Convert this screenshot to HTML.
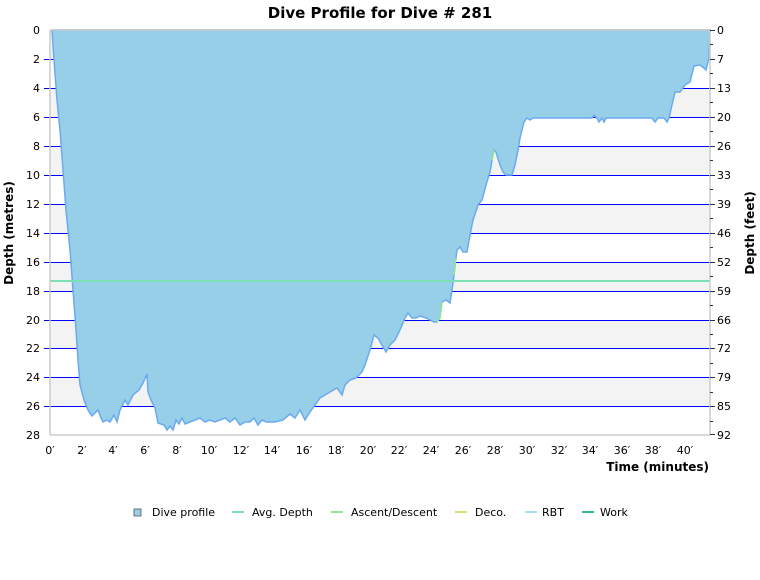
<!DOCTYPE html>
<html><head><meta charset="utf-8"><style>body{margin:0;background:#fff}svg{display:block;font-family:"DejaVu Sans","Liberation Sans",sans-serif}</style></head><body>
<svg width="760" height="580" xmlns="http://www.w3.org/2000/svg">
<text x="380" y="18" text-anchor="middle" font-size="15" font-weight="bold">Dive Profile for Dive # 281</text>
<g fill="#f3f3f3">
<rect x="50" y="30" width="660" height="29"/><rect x="50" y="88" width="660" height="29"/><rect x="50" y="146" width="660" height="29"/><rect x="50" y="204" width="660" height="29"/><rect x="50" y="262" width="660" height="29"/><rect x="50" y="320" width="660" height="29"/><rect x="50" y="377" width="660" height="29"/>
</g>
<g stroke="#0000ff" stroke-width="1" shape-rendering="crispEdges">
<line x1="44" x2="710" y1="59.5" y2="59.5"/><line x1="44" x2="710" y1="88.5" y2="88.5"/><line x1="44" x2="710" y1="117.5" y2="117.5"/><line x1="44" x2="710" y1="146.5" y2="146.5"/><line x1="44" x2="710" y1="175.5" y2="175.5"/><line x1="44" x2="710" y1="204.5" y2="204.5"/><line x1="44" x2="710" y1="233.5" y2="233.5"/><line x1="44" x2="710" y1="262.5" y2="262.5"/><line x1="44" x2="710" y1="291.5" y2="291.5"/><line x1="44" x2="710" y1="320.5" y2="320.5"/><line x1="44" x2="710" y1="348.5" y2="348.5"/><line x1="44" x2="710" y1="377.5" y2="377.5"/><line x1="44" x2="710" y1="406.5" y2="406.5"/>
</g>
<polygon fill="#97cfe8" stroke="#6aaaee" stroke-width="1.5" points="52,30 54,60 57,100 60,130 63,170 66,210 70,250 73,290 76,330 78,360 80,385 84,400 88,410 92,416 98,410 101,418 103,422 107,420 110,422 114,415 117,422 120,410 125,400 128,405 133,395 139,390 143,383 147,374 148,392 151,400 155,408 158,423 164,425 167,430 170,426 173,430 176,420 179,424 182,418 185,424 190,422 195,420 200,418 205,422 210,420 215,422 220,420 225,418 230,422 235,418 240,425 245,422 250,422 254,418 258,425 262,420 266,422 270,422 275,422 283,420 290,414 295,418 300,410 305,420 310,412 315,405 320,398 330,392 337,388 342,395 345,385 350,380 356,378 362,372 365,365 370,350 374,335 378,338 382,345 386,352 390,345 395,340 400,330 405,318 408,313 412,318 416,318 420,316 426,318 430,320 434,322 437,322 440,318 442,302 446,300 450,303 452,290 454,275 456,258 457,250 460,247 463,252 467,252 470,235 473,220 478,205 482,200 486,185 490,172 492,160 494,150 496,152 500,165 503,172 506,175 512,175 515,165 518,150 520,138 524,122 527,118 530,120 533,118 592,118 594,115 597,118 599,122 602,118 604,122 606,118 652,118 655,122 658,118 664,118 667,122 669,118 672,105 675,92 680,92 685,85 690,82 694,66 700,65 704,68 706,70 709,58 710,30"/>
<line x1="50" x2="710" y1="281" y2="281" stroke="#7de0b5" stroke-width="2"/>
<g fill="none" stroke="#8ee88e" stroke-width="1.5"><polyline points="437,322 440,318 442,302"/><polyline points="454,275 456,258"/><polyline points="492,160 494,150"/></g>
<g stroke="#ccc" stroke-width="1.5"><line x1="50" y1="30" x2="50" y2="435"/><line x1="710" y1="30" x2="710" y2="435"/><line x1="50" y1="435" x2="710" y2="435"/><line x1="50" y1="30" x2="710" y2="30"/></g>
<g font-size="11" text-anchor="end">
<text x="40" y="34">0</text><text x="40" y="63">2</text><text x="40" y="92">4</text><text x="40" y="121">6</text><text x="40" y="150">8</text><text x="40" y="179">10</text><text x="40" y="208">12</text><text x="40" y="237">14</text><text x="40" y="266">16</text><text x="40" y="295">18</text><text x="40" y="324">20</text><text x="40" y="352">22</text><text x="40" y="381">24</text><text x="40" y="410">26</text><text x="40" y="439">28</text>
</g>
<g stroke="#333" shape-rendering="crispEdges"><path d="M710 30.5h5M710 59.5h5M710 88.5h5M710 117.5h5M710 146.5h5M710 175.5h5M710 204.5h5M710 233.5h5M710 262.5h5M710 291.5h5M710 320.5h5M710 348.5h5M710 377.5h5M710 406.5h5M710 434.5h5M710 44.5h3M710 73.5h3M710 102.5h3M710 131.5h3M710 160.5h3M710 189.5h3M710 218.5h3M710 247.5h3M710 276.5h3M710 305.5h3M710 334.5h3M710 363.5h3M710 392.5h3M710 421.5h3"/></g>
<g font-size="11">
<text x="717" y="34">0</text><text x="717" y="63">7</text><text x="717" y="92">13</text><text x="717" y="121">20</text><text x="717" y="150">26</text><text x="717" y="179">33</text><text x="717" y="208">39</text><text x="717" y="237">46</text><text x="717" y="266">52</text><text x="717" y="295">59</text><text x="717" y="324">66</text><text x="717" y="352">72</text><text x="717" y="381">79</text><text x="717" y="410">85</text><text x="717" y="439">92</text>
</g>
<g font-size="11" text-anchor="middle">
<text x="50" y="454">0′</text><text x="82" y="454">2′</text><text x="113" y="454">4′</text><text x="145" y="454">6′</text><text x="177" y="454">8′</text><text x="209" y="454">10′</text><text x="241" y="454">12′</text><text x="272" y="454">14′</text><text x="304" y="454">16′</text><text x="336" y="454">18′</text><text x="368" y="454">20′</text><text x="399" y="454">22′</text><text x="431" y="454">24′</text><text x="463" y="454">26′</text><text x="495" y="454">28′</text><text x="527" y="454">30′</text><text x="559" y="454">32′</text><text x="590" y="454">34′</text><text x="622" y="454">36′</text><text x="653" y="454">38′</text><text x="685" y="454">40′</text>
</g>
<text x="709" y="471" text-anchor="end" font-size="12" font-weight="bold">Time (minutes)</text>
<text transform="translate(13,233) rotate(-90)" text-anchor="middle" font-size="12" font-weight="bold">Depth (metres)</text>
<text transform="translate(754,233) rotate(-90)" text-anchor="middle" font-size="12" font-weight="bold">Depth (feet)</text>
<g font-size="11">
<rect x="134" y="509" width="7" height="7" fill="#97cfe8" stroke="#555" stroke-width="0.8"/><text x="152" y="516">Dive profile</text>
<line x1="232" x2="244" y1="512" y2="512" stroke="#7de0b5" stroke-width="2"/><text x="252" y="516">Avg. Depth</text>
<line x1="331" x2="343" y1="512" y2="512" stroke="#8ee88e" stroke-width="2"/><text x="351" y="516">Ascent/Descent</text>
<line x1="455" x2="467" y1="512" y2="512" stroke="#d8e27a" stroke-width="2"/><text x="475" y="516">Deco.</text>
<line x1="525" x2="537" y1="512" y2="512" stroke="#a8ddf5" stroke-width="2"/><text x="542" y="516">RBT</text>
<line x1="582" x2="594" y1="512" y2="512" stroke="#2cb88a" stroke-width="2"/><text x="600" y="516">Work</text>
</g>
</svg>
</body></html>
